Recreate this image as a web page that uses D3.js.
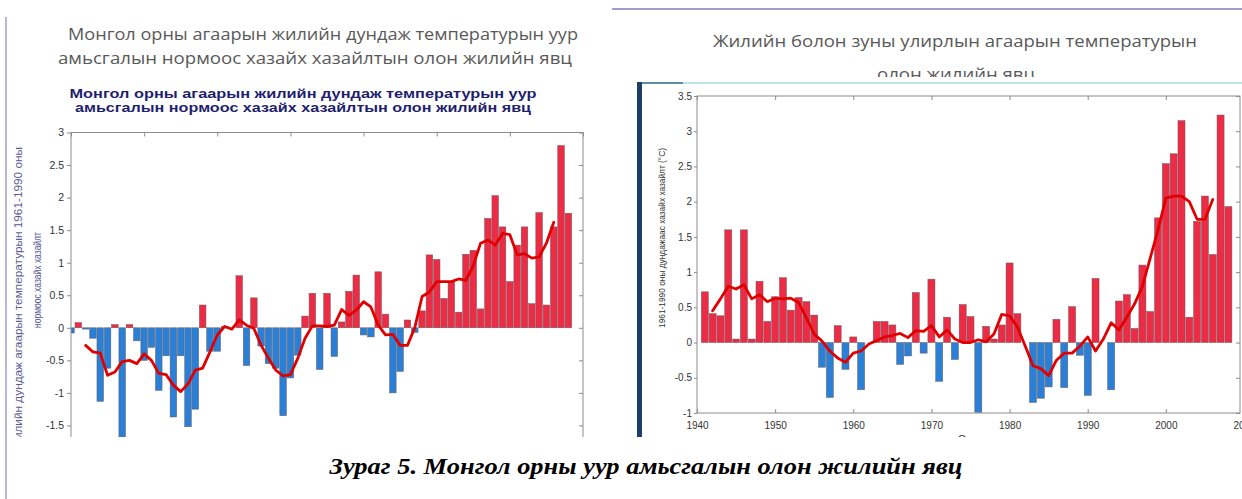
<!DOCTYPE html>
<html>
<head>
<meta charset="utf-8">
<script src="https://cdn.jsdelivr.net/npm/d3@7"></script>
<style>
body { margin: 0; background: #fff; overflow: hidden; }
svg { display: block; }
</style>
</head>
<body>
<svg id="chart"></svg>
<script>
// left chart: annual mean anomaly, 1940-2008
var leftStart = 1940;
var leftValues = [-0.08, 0.08, -0.02, -0.16, -1.13, -0.62, 0.05, -1.75, 0.05, -0.2,
    -0.5, -0.3, -0.96, -0.43, -1.37, -0.43, -1.52, -1.25, 0.35, -0.36,
    -0.36, 0.02, 0.0, 0.8, -0.58, 0.46, -0.28, -0.55, -0.62, -1.35,
    -0.77, -0.42, 0.18, 0.53, -0.64, 0.53, -0.44, 0.09, 0.56, 0.81,
    -0.11, -0.14, 0.86, 0.21, -1.0, -0.67, 0.12, -0.07, 0.26, 1.12,
    1.05, 0.45, 0.71, 0.24, 1.13, 1.19, 0.29, 1.68, 2.03, 1.55,
    0.71, 1.27, 1.55, 0.37, 1.77, 0.35, 1.55, 2.8, 1.76];
var leftLineStart = 1942;
var leftLine = [-0.27, -0.37, -0.39, -0.73, -0.68, -0.52, -0.5, -0.55, -0.4, -0.5,
    -0.7, -0.72, -0.88, -0.98, -0.86, -0.65, -0.62, -0.37, -0.11, 0.02,
    -0.02, 0.12, 0.04, -0.01, -0.27, -0.47, -0.65, -0.74, -0.72, -0.47,
    -0.16, 0.03, 0.03, 0.02, 0.04, 0.28, 0.19, 0.27, 0.4, 0.32,
    0.04, -0.11, -0.1, -0.27, -0.27, 0.0, 0.48, 0.55, 0.71, 0.71,
    0.71, 0.75, 0.73, 0.96, 1.3, 1.35, 1.27, 1.45, 1.43, 1.12,
    1.14, 1.07, 1.09, 1.3, 1.62];
var leftYTicks = [-2, -1.5, -1, -0.5, 0, 0.5, 1, 1.5, 2, 2.5, 3];
var leftXTicks = [1940, 1950, 1960, 1970, 1980, 1990, 2000, 2010];

// right chart: 1941-2008
var rightStart = 1941;
var rightValues = [0.72, 0.41, 0.38, 1.6, 0.05, 1.6, 0.05, 0.87, 0.3, 0.65,
    0.92, 0.46, 0.64, 0.58, 0.39, -0.35, -0.78, 0.24, -0.38, 0.08,
    -0.67, 0.0, 0.3, 0.3, 0.25, -0.31, -0.19, 0.71, -0.15, 0.9,
    -0.55, 0.36, -0.24, 0.54, 0.37, -0.99, 0.23, 0.05, 0.25, 1.13,
    0.41, 0.0, -0.85, -0.79, -0.63, 0.33, -0.64, 0.51, -0.18, -0.75,
    0.91, 0.0, -0.67, 0.59, 0.68, 0.2, 1.1, 0.44, 1.77, 2.54,
    2.68, 3.15, 0.36, 1.72, 2.08, 1.25, 3.23, 1.93];
var rightLineStart = 1942;
var rightLine = [0.45, 0.62, 0.8, 0.76, 0.82, 0.62, 0.68, 0.58, 0.63, 0.62,
    0.63, 0.57, 0.35, 0.12, 0.02, -0.12, -0.22, -0.28, -0.15, -0.12,
    -0.02, 0.03, 0.08, 0.1, 0.13, 0.07, 0.17, 0.16, 0.24, 0.08,
    0.18, 0.05, 0.0, 0.0, 0.04, 0.01, 0.12, 0.4, 0.38, 0.22,
    -0.05, -0.33, -0.37, -0.47, -0.25, -0.15, -0.15, -0.05, 0.08, -0.12,
    0.05, 0.28, 0.18, 0.36, 0.55, 0.8, 1.2, 1.6, 2.05, 2.08,
    2.08, 2.0, 1.75, 1.75, 2.03];
var rightYTicks = [-1, -0.5, 0, 0.5, 1, 1.5, 2, 2.5, 3, 3.5];
var rightXTicks = [1940, 1950, 1960, 1970, 1980, 1990, 2000, 2010];

var redFill = "#ec2b45", blueFill = "#2a7fd6", barStroke = "#6a5a60", lineColor = "#e00000";

var svg = d3.select("#chart").attr("width", 1242).attr("height", 499);
var defs = svg.append("defs");

function clip(id, x, y, w, h) {
    defs.append("clipPath").attr("id", id).append("rect")
        .attr("x", x).attr("y", y).attr("width", w).attr("height", h);
}
clip("leftImg", 10, 78, 600, 359);
clip("leftPlot", 71, 132, 512, 305);
clip("rightImg", 637, 82, 605, 355);
clip("rightPlot", 697, 95, 546, 342);
clip("rightTitle", 600, 0, 642, 77);

function fit(sel, w) {
    sel.attr("textLength", w).attr("lengthAdjust", "spacingAndGlyphs");
}

// page border
svg.append("line").attr("x1", 6).attr("x2", 6).attr("y1", 17).attr("y2", 499)
    .attr("stroke", "#9c9cd2").attr("stroke-width", 1.5);
svg.append("line").attr("x1", 612).attr("x2", 1242).attr("y1", 9).attr("y2", 9)
    .attr("stroke", "#9c9cd2").attr("stroke-width", 2);

// slide titles
var gt = svg.append("g").attr("font-family", "'Open Sans', sans-serif")
    .attr("font-size", 17).attr("fill", "#595959").attr("text-anchor", "middle");
gt.append("text").attr("x", 323).attr("y", 40).text("Монгол орны агаарын жилийн дундаж температурын уур").call(fit, 510);
gt.append("text").attr("x", 315).attr("y", 64).text("амьсгалын нормоос хазайх хазайлтын олон жилийн явц").call(fit, 514);
var gtr = gt.append("g").attr("clip-path", "url(#rightTitle)");
gtr.append("text").attr("x", 955).attr("y", 47).text("Жилийн болон зуны улирлын агаарын температурын").call(fit, 484);
gtr.append("text").attr("x", 956).attr("y", 80).text("олон жилийн явц").call(fit, 158);

// caption
svg.append("text").attr("x", 646).attr("y", 474).attr("text-anchor", "middle")
    .attr("font-family", "'Liberation Serif', serif").attr("font-weight", "bold")
    .attr("font-style", "italic").attr("font-size", 24).attr("fill", "#000")
    .text("Зураг 5. Монгол орны уур амьсгалын олон жилийн явц").call(fit, 633);

// ---------- left chart ----------
var L = svg.append("g").attr("clip-path", "url(#leftImg)");
var xL = d3.scaleLinear().domain([1940, 2010]).range([71, 583]);
var yL = d3.scaleLinear().domain([-2, 3]).range([458, 132.5]);
var bwL = (xL(1941) - xL(1940)) * 0.9;

L.append("text").attr("x", 303).attr("y", 98).attr("text-anchor", "middle")
    .attr("font-family", "'Liberation Sans', Arial, sans-serif").attr("font-weight", "bold")
    .attr("font-size", 12.5).attr("fill", "#1f1f6e")
    .text("Монгол орны агаарын жилийн дундаж температурын уур").call(fit, 467);
L.append("text").attr("x", 303).attr("y", 112).attr("text-anchor", "middle")
    .attr("font-family", "'Liberation Sans', Arial, sans-serif").attr("font-weight", "bold")
    .attr("font-size", 12.5).attr("fill", "#1f1f6e")
    .text("амьсгалын нормоос хазайх хазайлтын олон жилийн явц").call(fit, 456);

L.append("text").attr("transform", "translate(22,147) rotate(-90)").attr("text-anchor", "end")
    .attr("font-family", "'Liberation Sans', Arial, sans-serif").attr("font-size", 10.5)
    .attr("fill", "#5a5a96").text("жилийн дундаж агаарын температурын 1961-1990 оны").call(fit, 300);
L.append("text").attr("transform", "translate(41,280) rotate(-90)").attr("text-anchor", "middle")
    .attr("font-family", "'Liberation Sans', Arial, sans-serif").attr("font-size", 10.5)
    .attr("fill", "#5a5a96").text("нормоос хазайх хазайлт").call(fit, 96);

var lp = L.append("g").attr("clip-path", "url(#leftPlot)");
lp.selectAll(".barL")
    .data(leftValues)
    .enter().append("rect")
    .attr("class", "barL")
    .attr("x", function(d, i) { return xL(leftStart + i) - bwL / 2; })
    .attr("y", function(d) { return yL(Math.max(d, 0)); })
    .attr("width", bwL)
    .attr("height", function(d) { return Math.abs(yL(d) - yL(0)); })
    .attr("fill", function(d) { return d >= 0 ? redFill : blueFill; })
    .attr("stroke", barStroke).attr("stroke-width", 0.5);

lp.append("path")
    .datum(leftLine)
    .attr("fill", "none").attr("stroke", lineColor).attr("stroke-width", 2.8)
    .attr("stroke-linejoin", "round").attr("stroke-linecap", "round")
    .attr("d", d3.line()
        .x(function(d, i) { return xL(leftLineStart + i); })
        .y(function(d) { return yL(d); }));

L.append("rect").attr("x", 71).attr("y", 132.5).attr("width", 512).attr("height", 325.5)
    .attr("fill", "none").attr("stroke", "#8c8c8c");

function styleAxis(g, size) {
    g.select(".domain").remove();
    g.selectAll("line").attr("stroke", "#8c8c8c");
    g.selectAll("text").attr("fill", "#333").attr("font-size", size)
        .attr("font-family", "'Liberation Sans', Arial, sans-serif");
}

L.append("g").attr("transform", "translate(71,0)")
    .call(d3.axisLeft(yL).tickValues(leftYTicks).tickSize(4).tickPadding(3)
        .tickFormat(function(d) { return String(d); }))
    .call(styleAxis, 10.5);
L.append("g").attr("transform", "translate(583,0)")
    .call(d3.axisRight(yL).tickValues(leftYTicks).tickSize(-4).tickFormat(""))
    .call(styleAxis, 10);
L.append("g").attr("transform", "translate(0,132.5)")
    .call(d3.axisTop(xL).tickValues(leftXTicks).tickSize(-4).tickFormat(""))
    .call(styleAxis, 10);

// ---------- right chart ----------
var R = svg.append("g").attr("clip-path", "url(#rightImg)");
R.append("rect").attr("x", 637).attr("y", 82).attr("width", 605).attr("height", 355).attr("fill", "#fff");
var xR = d3.scaleLinear().domain([1940, 2010]).range([697, 1244]);
var yR = d3.scaleLinear().domain([-1, 3.5]).range([413, 96]);
var bwR = (xR(1941) - xR(1940)) * 0.9;

// image edge
R.append("line").attr("x1", 683).attr("x2", 1242).attr("y1", 83).attr("y2", 83)
    .attr("stroke", "#a6dede").attr("stroke-width", 1.5);
R.append("line").attr("x1", 637).attr("x2", 683).attr("y1", 83).attr("y2", 83)
    .attr("stroke", "#2a6a8a").attr("stroke-width", 1.5);
R.append("rect").attr("x", 637).attr("y", 82).attr("width", 5).attr("height", 355)
    .attr("fill", "#1d3f66");

R.append("text").attr("transform", "translate(665,238) rotate(-90)").attr("text-anchor", "middle")
    .attr("font-family", "'Liberation Sans', Arial, sans-serif").attr("font-size", 9.5)
    .attr("fill", "#333").text("1961-1990 оны дундажаас хазайх хазайлт (°C)").call(fit, 180);

var rp = R.append("g").attr("clip-path", "url(#rightPlot)");
rp.selectAll(".barR")
    .data(rightValues)
    .enter().append("rect")
    .attr("class", "barR")
    .attr("x", function(d, i) { return xR(rightStart + i) - bwR / 2; })
    .attr("y", function(d) { return yR(Math.max(d, 0)); })
    .attr("width", bwR)
    .attr("height", function(d) { return Math.abs(yR(d) - yR(0)); })
    .attr("fill", function(d) { return d >= 0 ? redFill : blueFill; })
    .attr("stroke", barStroke).attr("stroke-width", 0.5);

rp.append("path")
    .datum(rightLine)
    .attr("fill", "none").attr("stroke", lineColor).attr("stroke-width", 2.8)
    .attr("stroke-linejoin", "round").attr("stroke-linecap", "round")
    .attr("d", d3.line()
        .x(function(d, i) { return xR(rightLineStart + i); })
        .y(function(d) { return yR(d); }));

R.append("rect").attr("x", 697).attr("y", 96).attr("width", 543).attr("height", 317)
    .attr("fill", "none").attr("stroke", "#8c8c8c");

R.append("g").attr("transform", "translate(697,0)")
    .call(d3.axisLeft(yR).tickValues(rightYTicks).tickSize(3).tickPadding(2)
        .tickFormat(function(d) { return String(d); }))
    .call(styleAxis, 10);
R.append("g").attr("transform", "translate(1240,0)")
    .call(d3.axisRight(yR).tickValues(rightYTicks).tickSize(-4).tickFormat(""))
    .call(styleAxis, 10);
R.append("g").attr("transform", "translate(0,96)")
    .call(d3.axisTop(xR).tickValues(rightXTicks).tickSize(-4).tickFormat(""))
    .call(styleAxis, 10);
R.append("g").attr("transform", "translate(0,413)")
    .call(d3.axisBottom(xR).tickValues(rightXTicks).tickSize(-4).tickPadding(9)
        .tickFormat(function(d) { return String(d); }))
    .call(styleAxis, 10);

R.append("text").attr("x", 965).attr("y", 443).attr("text-anchor", "middle")
    .attr("font-family", "'Liberation Sans', Arial, sans-serif").attr("font-size", 11)
    .attr("fill", "#333").text("Он");
</script>
</body>
</html>
